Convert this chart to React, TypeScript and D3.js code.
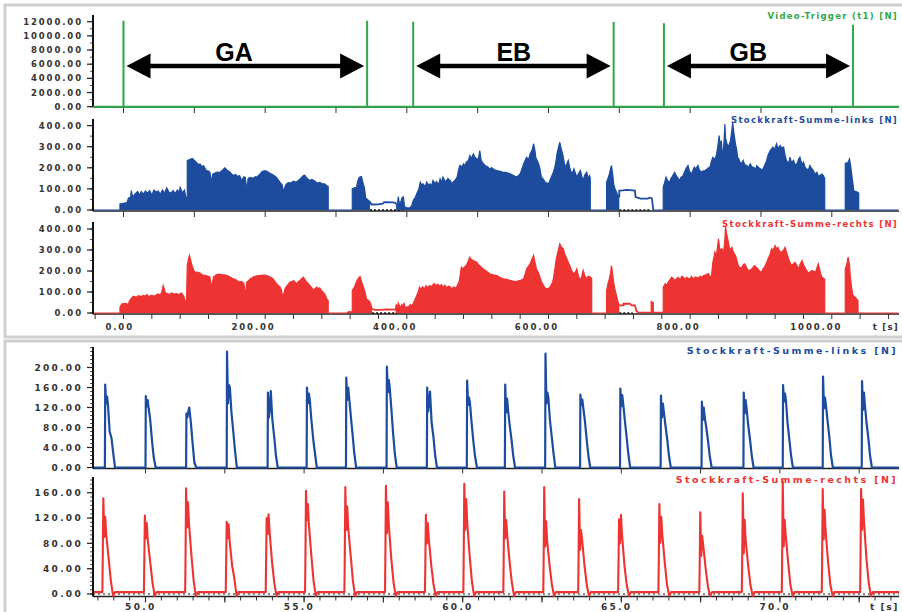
import React from 'react';
import * as d3 from 'd3';

// ---- overview (whole run), time in s ----
const triggerTimes = [0, 344, 409, 692, 763, 1030];
const triggerPeaks = [12150, 12150, 12000, 11950, 11780, 11580];
const phaseNames = ['GA', 'EB', 'GB'];
const phaseSpans: [number, number][] = [[0, 344], [409, 692], [763, 1030]];
const phaseLabelAt = [156, 551, 882];

const linksEnvA: [number, number][] = [
  [-43, 0], [-5, 0], [-5, 28], [0, 32], [5, 35], [7, 57], [10, 60], [11, 92], [13, 60], [16, 75], [20, 88], [23, 70], [25, 88], [28, 75],
  [31, 90], [34, 80], [37, 92], [40, 70], [43, 95], [46, 85], [49, 90], [52, 75], [55, 95], [58, 80], [61, 105], [64, 85], [67, 80],
  [70, 92], [73, 78], [76, 95], [79, 85], [80, 111], [83, 80], [86, 95], [88, 60], [90, 60], [90, 234], [94, 240], [97, 244], [99, 238],
  [103, 225], [106, 215], [108, 218], [111, 205], [113, 210], [117, 187], [120, 185], [122, 179], [124, 132], [126, 170], [129, 175],
  [132, 180], [136, 178], [140, 190], [143, 200], [146, 190], [150, 180], [153, 170], [155, 163], [158, 168], [161, 160], [164, 163],
  [167, 140], [170, 158], [172, 155], [174, 92], [176, 150], [179, 155], [183, 150], [186, 158], [188, 155], [191, 165], [193, 171],
  [195, 180], [197, 184], [200, 186], [202, 184], [205, 178], [209, 171], [212, 165], [216, 155], [219, 140], [221, 131], [224, 120],
  [226, 84], [228, 110], [230, 124], [233, 130], [236, 128], [240, 137], [243, 132], [247, 140], [250, 150], [254, 163], [256, 165],
  [259, 150], [263, 140], [266, 145], [270, 137], [273, 128], [277, 131], [280, 125], [284, 124], [287, 115], [289, 112], [289, 0],
  [323, 0], [323, 100], [326, 105], [329, 108], [331, 140], [333, 155], [336, 159], [338, 130], [340, 108], [342, 57], [346, 45], [348, 40],
];
const linksQuietA: [number, number][] = [[348, 40], [350, 26], [360, 27], [366, 30], [368, 37], [380, 36], [384, 34], [385, 26]];
const linksEnvB: [number, number][] = [
  [385, 26], [386, 13], [388, 63], [390, 20], [393, 57], [395, 63], [397, 15], [400, 10], [404, 10], [407, 20], [409, 45], [412, 60],
  [414, 77], [417, 100], [419, 132], [421, 120], [423, 124], [426, 110], [428, 132], [431, 118], [433, 124], [435, 115], [437, 140],
  [440, 125], [442, 135], [445, 120], [447, 148], [449, 130], [451, 156], [454, 135], [456, 140], [458, 150], [461, 140], [464, 125],
  [466, 135], [469, 145], [471, 156], [473, 190], [475, 211], [478, 205], [480, 219], [482, 210], [484, 227], [487, 235], [489, 258],
  [491, 245], [494, 266], [496, 250], [499, 242], [501, 240], [503, 282], [505, 235], [508, 219], [511, 210], [514, 205], [517, 195],
  [520, 200], [524, 190], [527, 187], [530, 185], [533, 182], [536, 179], [540, 178], [543, 175], [546, 171], [550, 165], [553, 160],
  [555, 156], [558, 165], [560, 171], [562, 190], [565, 219], [567, 235], [569, 250], [572, 240], [574, 266], [577, 285], [579, 314],
  [581, 280], [582, 250], [584, 235], [586, 219], [588, 195], [590, 156], [593, 145], [595, 132], [598, 128], [600, 124], [602, 140],
  [604, 156], [607, 180], [609, 203], [611, 240], [612, 266], [614, 295], [616, 321], [618, 290], [620, 266], [622, 230], [623, 203],
  [626, 220], [628, 235], [630, 200], [633, 171], [635, 185], [636, 195], [638, 175], [640, 156], [642, 170], [645, 187], [647, 160],
  [649, 140], [651, 165], [654, 179], [656, 150], [658, 163], [659, 150], [659, 0], [682, 0], [682, 132], [684, 150], [686, 171],
  [688, 200], [689, 211], [691, 160], [692, 124], [694, 100], [696, 85], [698, 70], [700, 61],
];
const linksQuietB: [number, number][] = [[700, 61], [700, 92], [705, 93], [710, 95], [715, 94], [722, 92], [723, 61], [730, 54], [740, 54], [743, 58], [746, 55], [748, 0]];
const linksEnvC: [number, number][] = [
  [748, 0], [762, 0], [762, 108], [764, 130], [766, 156], [768, 140], [771, 132], [773, 150], [775, 160], [778, 179], [780, 165],
  [783, 150], [785, 140], [787, 155], [790, 163], [792, 180], [794, 195], [797, 211], [799, 185], [802, 170], [804, 190], [806, 203],
  [808, 195], [811, 211], [813, 190], [816, 179], [818, 185], [821, 187], [824, 195], [826, 200], [828, 203], [830, 230], [832, 250],
  [835, 240], [837, 258], [839, 300], [841, 353], [842, 310], [844, 329], [845, 280], [846, 250], [848, 330], [849, 408], [850, 340],
  [852, 314], [854, 300], [857, 329], [859, 380], [860, 416], [862, 360], [864, 314], [866, 280], [867, 250], [869, 240], [870, 227],
  [873, 220], [875, 235], [877, 215], [880, 211], [882, 200], [885, 219], [887, 205], [890, 203], [892, 190], [894, 210], [897, 200],
  [899, 195], [901, 190], [903, 195], [905, 210], [908, 235], [910, 260], [913, 282], [915, 290], [917, 298], [919, 285], [922, 314],
  [924, 290], [927, 306], [929, 295], [932, 298], [934, 260], [936, 235], [939, 220], [941, 250], [943, 225], [946, 235], [948, 215],
  [951, 219], [953, 240], [955, 250], [958, 215], [960, 227], [962, 205], [964, 195], [967, 190], [969, 211], [971, 200], [974, 187],
  [976, 170], [979, 179], [981, 160], [983, 163], [986, 170], [988, 163], [990, 150], [990, 0], [1019, 0], [1019, 219], [1021, 225],
  [1022, 211], [1024, 235], [1025, 242], [1027, 200], [1028, 171], [1030, 120], [1031, 92], [1033, 88], [1036, 85], [1038, 80],
  [1038, 0], [1094, 0],
];

const rechtsEnvA: [number, number][] = [
  [-43, 0], [-5, 0], [-5, 28], [-2, 44], [3, 46], [7, 40], [8, 55], [11, 70], [14, 80], [18, 75], [21, 82], [25, 78], [28, 84], [31, 80],
  [33, 88], [36, 78], [40, 85], [44, 80], [47, 88], [49, 91], [52, 85], [54, 100], [56, 131], [58, 110], [59, 96], [62, 92], [65, 88],
  [68, 95], [71, 90], [75, 92], [78, 88], [82, 95], [85, 80], [87, 60], [89, 55], [90, 226], [92, 260], [93, 274], [95, 250], [96, 234],
  [99, 205], [101, 194], [104, 195], [108, 190], [112, 180], [116, 178], [120, 175], [122, 172], [124, 123], [126, 150], [127, 171],
  [131, 182], [135, 185], [138, 183], [142, 182], [146, 178], [150, 172], [153, 165], [155, 163], [158, 160], [160, 155], [164, 147],
  [167, 150], [170, 140], [172, 83], [174, 147], [177, 155], [179, 163], [181, 165], [183, 171], [186, 175], [190, 178], [193, 178],
  [197, 180], [200, 180], [202, 178], [205, 175], [207, 171], [211, 163], [214, 150], [216, 139], [219, 130], [221, 123], [223, 110],
  [225, 75], [227, 100], [228, 115], [231, 130], [235, 147], [238, 150], [240, 155], [243, 145], [245, 139], [247, 150], [249, 155],
  [252, 165], [254, 171], [256, 160], [259, 145], [261, 140], [263, 131], [266, 120], [268, 107], [271, 118], [273, 123], [275, 115],
  [277, 120], [280, 105], [282, 99], [285, 85], [287, 67], [289, 60], [289, 0], [315, 0], [318, 7], [321, 5], [323, 5], [323, 107],
  [326, 123], [329, 150], [331, 163], [334, 174], [336, 150], [338, 131], [340, 110], [341, 99], [343, 67], [346, 60], [348, 52], [351, 20],
];
const rechtsQuietA: [number, number][] = [[351, 20], [355, 15], [365, 15], [370, 17], [383, 16], [384, 20]];
const rechtsEnvB: [number, number][] = [
  [384, 20], [385, 39], [387, 30], [388, 48], [391, 25], [393, 40], [395, 30], [396, 48], [398, 25], [400, 28], [403, 32], [405, 40],
  [407, 30], [409, 45], [411, 60], [414, 83], [416, 100], [418, 123], [420, 110], [422, 125], [425, 115], [427, 130], [430, 120],
  [432, 131], [434, 125], [437, 135], [439, 140], [441, 130], [444, 138], [446, 128], [449, 135], [451, 125], [454, 132], [456, 120],
  [459, 128], [461, 125], [464, 115], [466, 125], [469, 118], [471, 130], [474, 150], [477, 218], [479, 210], [482, 222], [484, 226],
  [487, 250], [489, 265], [491, 255], [494, 250], [496, 245], [499, 242], [501, 230], [503, 226], [506, 215], [508, 210], [512, 200],
  [517, 187], [522, 182], [527, 178], [531, 170], [536, 163], [541, 160], [546, 155], [550, 152], [555, 150], [560, 155], [565, 163],
  [567, 185], [569, 210], [572, 225], [574, 234], [577, 260], [579, 274], [581, 240], [583, 210], [586, 190], [588, 171], [590, 150],
  [593, 131], [595, 120], [597, 115], [600, 118], [602, 123], [605, 140], [607, 163], [609, 210], [611, 258], [614, 300], [616, 329],
  [618, 315], [621, 306], [623, 280], [626, 258], [628, 240], [630, 226], [633, 200], [635, 187], [638, 195], [640, 210], [642, 180],
  [645, 155], [647, 175], [649, 203], [651, 180], [654, 163], [656, 175], [659, 171], [661, 165], [661, 0], [682, 0], [682, 107],
  [684, 140], [686, 163], [688, 200], [689, 226], [690, 200], [692, 147], [694, 110], [696, 83], [698, 55], [700, 36],
];
const rechtsQuietB: [number, number][] = [[700, 36], [706, 36], [706, 44], [715, 44], [717, 36], [722, 36], [724, 12], [726, 3]];
const rechtsEnvC: [number, number][] = [
  [726, 3], [745, 3], [745, 55], [748, 50], [748, 3], [762, 3], [762, 123], [765, 140], [767, 130], [769, 147], [772, 160], [774, 171],
  [776, 165], [778, 155], [781, 163], [783, 170], [786, 160], [788, 175], [790, 171], [793, 160], [795, 170], [797, 165], [800, 163],
  [802, 175], [804, 160], [806, 170], [809, 171], [811, 165], [814, 175], [816, 170], [819, 178], [821, 180], [824, 185], [826, 187],
  [828, 175], [830, 171], [832, 240], [835, 290], [837, 270], [840, 353], [842, 300], [845, 306], [847, 280], [849, 350], [850, 409],
  [852, 370], [854, 337], [856, 300], [859, 313], [861, 290], [864, 274], [866, 250], [868, 226], [870, 215], [873, 218], [875, 230],
  [877, 234], [880, 215], [882, 202], [885, 205], [887, 210], [889, 218], [891, 226], [894, 215], [896, 210], [898, 200], [901, 194],
  [903, 210], [905, 218], [908, 240], [910, 258], [913, 280], [915, 306], [917, 300], [920, 321], [922, 305], [924, 313], [927, 290],
  [929, 290], [932, 300], [934, 313], [937, 280], [939, 258], [941, 240], [943, 226], [946, 235], [948, 242], [951, 225], [953, 210],
  [955, 230], [958, 250], [960, 230], [962, 218], [965, 200], [967, 187], [969, 195], [972, 202], [974, 200], [977, 194], [979, 215],
  [981, 234], [984, 190], [986, 170], [988, 165], [990, 160], [990, 0], [1019, 0], [1019, 210], [1021, 230], [1023, 266], [1025, 230],
  [1026, 178], [1028, 120], [1030, 83], [1033, 75], [1035, 67], [1037, 60], [1037, 0], [1094, 0],
];
const linksZeroSpans: [number, number][] = [[348, 395], [700, 743]];
const rechtsZeroSpans: [number, number][] = [[351, 386], [700, 719]];

// ---- detail window 48.3 .. 73.8 s, one entry per pole stroke ----
const linksStrokeStart = [48.72, 50.0, 51.28, 52.56, 53.85, 55.08, 56.32, 57.6, 58.87, 60.13, 61.33, 62.6, 63.7, 64.96, 66.24, 67.53, 68.85, 70.09, 71.35, 72.58];
const linksStrokeOffsets = [0, 0.01, 0.04, 0.07, 0.1, 0.15, 0.21, 0.26, 0.32];
const linksStrokeValues = [
  [166, 128, 142, 122, 72, 58, 30], [143, 122, 135, 118, 95, 50, 20], [108, 100, 112, 120, 90, 45, 10], [232, 128, 165, 160, 110, 70, 35],
  [150, 100, 115, 153, 95, 60, 25], [160, 128, 148, 135, 95, 55, 30], [180, 135, 160, 140, 105, 65, 30], [202, 150, 175, 160, 118, 65, 28],
  [160, 112, 130, 152, 90, 60, 25], [174, 125, 140, 128, 90, 50, 22], [166, 110, 138, 115, 85, 55, 25], [228, 128, 150, 140, 95, 60, 30],
  [146, 125, 136, 120, 95, 55, 25], [158, 122, 145, 128, 95, 60, 28], [144, 100, 128, 112, 85, 55, 25], [132, 95, 120, 100, 80, 50, 22],
  [150, 108, 135, 118, 85, 55, 25], [165, 132, 148, 135, 90, 55, 25], [182, 118, 140, 125, 95, 60, 25], [173, 115, 150, 125, 90, 58, 25],
];
const rechtsStrokeStart = [48.64, 49.95, 51.25, 52.53, 53.79, 55.03, 56.27, 57.55, 58.81, 60.02, 61.28, 62.54, 63.64, 64.9, 66.17, 67.46, 68.8, 70.06, 71.32, 72.53];
const rechtsStrokeOffsets = [0, 0.01, 0.03, 0.06, 0.09, 0.12, 0.2, 0.27, 0.34, 0.4];
const rechtsStrokeValues = [
  [45, 151, 90, 122, 95, 55, 20], [40, 124, 88, 112, 86, 50, 18], [45, 167, 105, 145, 112, 60, 20], [40, 114, 88, 110, 85, 45, 25],
  [45, 120, 95, 126, 100, 50, 18], [45, 163, 117, 142, 110, 60, 20], [45, 169, 101, 138, 105, 60, 20], [45, 171, 96, 145, 110, 55, 18],
  [40, 125, 80, 112, 88, 45, 15], [50, 174, 101, 150, 115, 60, 20], [45, 162, 88, 117, 95, 50, 18], [45, 169, 75, 115, 85, 45, 15],
  [40, 150, 70, 101, 88, 45, 15], [40, 118, 80, 125, 95, 45, 15], [45, 142, 81, 122, 95, 50, 15], [40, 129, 60, 92, 78, 40, 12],
  [45, 159, 64, 117, 85, 45, 15], [50, 178, 75, 117, 95, 50, 15], [45, 166, 86, 133, 100, 50, 15], [50, 166, 101, 149, 115, 55, 18],
];
const rechtsRest = 3;
const rechtsUndershoot = -3;

const GREEN = '#2fa84a';
const BLUE = '#1d4c9f';
const RED = '#ee3333';
const AXIS_X = 93;
const RIGHT = 899;

const xTop = d3.scaleLinear().domain([0, 1000]).range([123.5, 831.8]);
const xBot = d3.scaleLinear().domain([50, 70]).range([145.5, 779.9]);

const yTrig = d3.scaleLinear().domain([0, 12000]).range([106.7, 21.7]);
const yLinksTop = d3.scaleLinear().domain([0, 400]).range([210, 125.6]);
const yRechtsTop = d3.scaleLinear().domain([0, 400]).range([313, 229]);
const yLinksBot = d3.scaleLinear().domain([0, 200]).range([467.5, 367.5]);
const yRechtsBot = d3.scaleLinear().domain([0, 160]).range([594, 492.7]);

type Pt = [number, number];
type Sc = d3.ScaleLinear<number, number>;

const lineOf = (pts: Pt[], x: Sc, y: Sc) => d3.line<Pt>().x(d => x(d[0])).y(d => y(d[1]))(pts) || '';
const areaOf = (pts: Pt[], x: Sc, y: Sc) => d3.area<Pt>().x(d => x(d[0])).y0(y(0)).y1(d => y(d[1]))(pts) || '';

const f2 = d3.format('.2f');
const f1 = d3.format('.1f');

const tickFont = { fontFamily: 'DejaVu Sans', fontWeight: 700, fill: '#333' } as const;

function YAxis({ scale, top, bottom, major, minor, big }: { scale: Sc; top: number; bottom: number; major: number[]; minor: number; big?: boolean }) {
  const lo = scale.invert(bottom);
  const hi = scale.invert(top);
  const minors = d3.range(Math.ceil(lo / minor - 1e-6) * minor, hi, minor);
  return (
    <g>
      {minors.map((v, i) => (
        <line key={'m' + i} x1={AXIS_X - 3} x2={AXIS_X} y1={scale(v)} y2={scale(v)} stroke="#555" strokeWidth={1} />
      ))}
      {major.map(v => (
        <g key={v}>
          <line x1={AXIS_X - 6} x2={AXIS_X} y1={scale(v)} y2={scale(v)} stroke="#222" strokeWidth={1.2} />
          <text x={83} y={scale(v)} dy="0.36em" textAnchor="end" fontSize={big ? 9 : 8.5} letterSpacing={big ? 2.3 : 1.9} {...tickFont}>
            {f2(v)}
          </text>
        </g>
      ))}
      <line x1={AXIS_X} x2={AXIS_X} y1={top} y2={bottom} stroke="#111" strokeWidth={2} />
    </g>
  );
}

function XAxis({ scale, y, ticks, len, major, majorLen }: { scale: Sc; y: number; ticks: number[]; len: number; major?: number[]; majorLen?: number }) {
  return (
    <g>
      <line x1={AXIS_X} x2={RIGHT} y1={y} y2={y} stroke="#222" strokeWidth={1.4} />
      {ticks.map((t, i) => (
        <line key={i} x1={scale(t)} x2={scale(t)} y1={y} y2={y + len} stroke="#333" strokeWidth={1} />
      ))}
      {(major || []).map((t, i) => (
        <line key={'M' + i} x1={scale(t)} x2={scale(t)} y1={y} y2={y + (majorLen || len)} stroke="#333" strokeWidth={1.2} />
      ))}
    </g>
  );
}

function Title({ y, color, text, big }: { y: number; color: string; text: string; big?: boolean }) {
  return (
    <text x={RIGHT - 1} y={y} textAnchor="end" fontFamily="DejaVu Sans" fontWeight={700} fontSize={big ? 9.5 : 8.5} letterSpacing={big ? 2.4 : 1.3} fill={color}>
      {text}
    </text>
  );
}

function Envelope({ segs, quiet, zero, y, color }: { segs: Pt[][]; quiet: Pt[][]; zero: [number, number][]; y: Sc; color: string }) {
  return (
    <g>
      {zero.map(([a, b], i) => (
        <line key={'z' + i} x1={xTop(a)} x2={xTop(b)} y1={y(0)} y2={y(0)} stroke="#111" strokeWidth={1.6} strokeDasharray="2,2" />
      ))}
      {segs.map((s, i) => (
        <g key={i}>
          <path d={areaOf(s, xTop, y)} fill={color} />
          <path d={lineOf(s, xTop, y)} fill="none" stroke={color} strokeWidth={1.2} />
        </g>
      ))}
      {quiet.map((q, i) => (
        <path key={'q' + i} d={lineOf(q, xTop, y)} fill="none" stroke={color} strokeWidth={1.8} />
      ))}
    </g>
  );
}

export default function App() {
  const t0 = xTop.invert(AXIS_X);
  const t1 = xTop.invert(RIGHT);
  const trigPts: Pt[] = [[t0, 0]];
  triggerTimes.forEach((t, i) => {
    trigPts.push([t, 0], [t, triggerPeaks[i]], [t, 0]);
  });
  trigPts.push([t1, 0]);

  const b0 = xBot.invert(AXIS_X);
  const b1 = xBot.invert(RIGHT);
  const linksPts: Pt[] = [[b0, 0]];
  linksStrokeStart.forEach((s, i) => {
    linksPts.push([s, 0]);
    linksStrokeValues[i].forEach((v, j) => linksPts.push([s + linksStrokeOffsets[j + 1], v]));
    linksPts.push([s + linksStrokeOffsets[linksStrokeOffsets.length - 1], 0]);
  });
  linksPts.push([b1, 0]);

  const rechtsPts: Pt[] = [[b0, rechtsRest]];
  rechtsStrokeStart.forEach((s, i) => {
    rechtsPts.push([s, rechtsRest]);
    rechtsStrokeValues[i].forEach((v, j) => rechtsPts.push([s + rechtsStrokeOffsets[j + 1], v]));
    const n = rechtsStrokeOffsets.length;
    rechtsPts.push([s + rechtsStrokeOffsets[n - 2], rechtsUndershoot], [s + rechtsStrokeOffsets[n - 1], rechtsRest]);
  });
  rechtsPts.push([b1, rechtsRest]);

  const arrowY = yTrig(5750);
  const labelY = yTrig(6450);

  return (
    <svg width={902} height={612} style={{ position: 'absolute', left: 0, top: 0, background: '#fff' }}>
      <defs>
        <clipPath id="clipTop"><rect x={AXIS_X} y={0} width={RIGHT - AXIS_X} height={340} /></clipPath>
        <clipPath id="clipBot"><rect x={AXIS_X} y={340} width={RIGHT - AXIS_X} height={272} /></clipPath>
      </defs>
      <rect x={5} y={5} width={900} height={332} fill="none" stroke="#cfcfcf" strokeWidth={3} />
      <rect x={5} y={341} width={900} height={275} fill="none" stroke="#cfcfcf" strokeWidth={3} />

      {/* panel 1: video trigger */}
      <XAxis scale={xTop} y={107} ticks={d3.range(0, 1001, 100)} len={6} />
      <YAxis scale={yTrig} top={15} bottom={107} major={d3.range(0, 12001, 2000)} minor={1000} />
      <path d={lineOf(trigPts, xTop, yTrig)} fill="none" stroke={GREEN} strokeWidth={2} clipPath="url(#clipTop)" />
      <Title y={19} color={GREEN} text="Video-Trigger (t1) [N]" />
      {phaseSpans.map(([a, b], i) => {
        const xa = xTop(a) + 3;
        const xb = xTop(b) - 3;
        return (
          <g key={i}>
            <line x1={xa + 20} x2={xb - 20} y1={arrowY} y2={arrowY} stroke="#000" strokeWidth={4.5} />
            <polygon points={`${xa},${arrowY} ${xa + 24},${arrowY - 12.5} ${xa + 24},${arrowY + 12.5}`} fill="#000" />
            <polygon points={`${xb},${arrowY} ${xb - 24},${arrowY - 12.5} ${xb - 24},${arrowY + 12.5}`} fill="#000" />
            <text x={xTop(phaseLabelAt[i])} y={labelY} textAnchor="middle" fontFamily="Liberation Sans, Arial" fontWeight={700} fontSize={25} fill="#000">
              {phaseNames[i]}
            </text>
          </g>
        );
      })}

      {/* panel 2: left pole, whole run */}
      <XAxis scale={xTop} y={211} ticks={d3.range(0, 1001, 100)} len={6} />
      <g clipPath="url(#clipTop)">
        <Envelope segs={[linksEnvA, linksEnvB, linksEnvC]} quiet={[linksQuietA, linksQuietB]} zero={linksZeroSpans} y={yLinksTop} color={BLUE} />
      </g>
      <YAxis scale={yLinksTop} top={119} bottom={211} major={d3.range(0, 401, 100)} minor={50} />
      <Title y={122.5} color={BLUE} text="Stockkraft-Summe-links [N]" />

      {/* panel 3: right pole, whole run */}
      <XAxis scale={xTop} y={314} ticks={d3.range(-40, 1081, 40)} len={5} />
      <g clipPath="url(#clipTop)">
        <Envelope segs={[rechtsEnvA, rechtsEnvB, rechtsEnvC]} quiet={[rechtsQuietA, rechtsQuietB]} zero={rechtsZeroSpans} y={yRechtsTop} color={RED} />
      </g>
      <YAxis scale={yRechtsTop} top={222} bottom={314} major={d3.range(0, 401, 100)} minor={50} />
      <Title y={226.5} color={RED} text="Stockkraft-Summe-rechts [N]" />
      {d3.range(0, 1001, 200).map(t => (
        <text key={t} x={xTop(t) + 10.5} y={330} textAnchor="end" fontSize={8.5} letterSpacing={1.9} {...tickFont}>{f2(t)}</text>
      ))}
      <text x={RIGHT} y={330} textAnchor="end" fontSize={8.5} letterSpacing={1.3} {...tickFont}>t [s]</text>

      {/* panel 4: left pole, detail */}
      <XAxis scale={xBot} y={468.5} ticks={d3.range(50, 73, 2.5)} len={5} />
      <g clipPath="url(#clipBot)">
        <line x1={AXIS_X} x2={RIGHT} y1={yLinksBot(0) + 1} y2={yLinksBot(0) + 1} stroke="#111" strokeWidth={1.2} strokeDasharray="2,3" />
        <path d={lineOf(linksPts, xBot, yLinksBot)} fill="none" stroke={BLUE} strokeWidth={2.2} strokeLinejoin="round" />
      </g>
      <YAxis scale={yLinksBot} top={347} bottom={468.5} major={d3.range(0, 201, 40)} minor={8} big />
      <Title y={354} color={BLUE} text="Stockkraft-Summe-links [N]" big />

      {/* panel 5: right pole, detail */}
      <XAxis scale={xBot} y={596.5} ticks={d3.range(48.5, 73.6, 0.5)} len={4} major={d3.range(50, 73, 2.5)} majorLen={6} />
      <g clipPath="url(#clipBot)">
        <line x1={AXIS_X} x2={RIGHT} y1={yRechtsBot(0)} y2={yRechtsBot(0)} stroke="#111" strokeWidth={1.2} strokeDasharray="2,3" />
        <path d={lineOf(rechtsPts, xBot, yRechtsBot)} fill="none" stroke={RED} strokeWidth={2.1} strokeLinejoin="round" />
      </g>
      <YAxis scale={yRechtsBot} top={477} bottom={596.5} major={d3.range(0, 161, 40)} minor={40 / 6} big />
      <Title y={482.5} color={RED} text="Stockkraft-Summe-rechts [N]" big />
      {d3.range(50, 71, 5).map(t => (
        <text key={t} x={xBot(t) + 11} y={610} textAnchor="end" fontSize={9} letterSpacing={2.3} {...tickFont}>{f1(t)}</text>
      ))}
      <text x={RIGHT} y={610} textAnchor="end" fontSize={9} letterSpacing={1.6} {...tickFont}>t [s]</text>
    </svg>
  );
}
